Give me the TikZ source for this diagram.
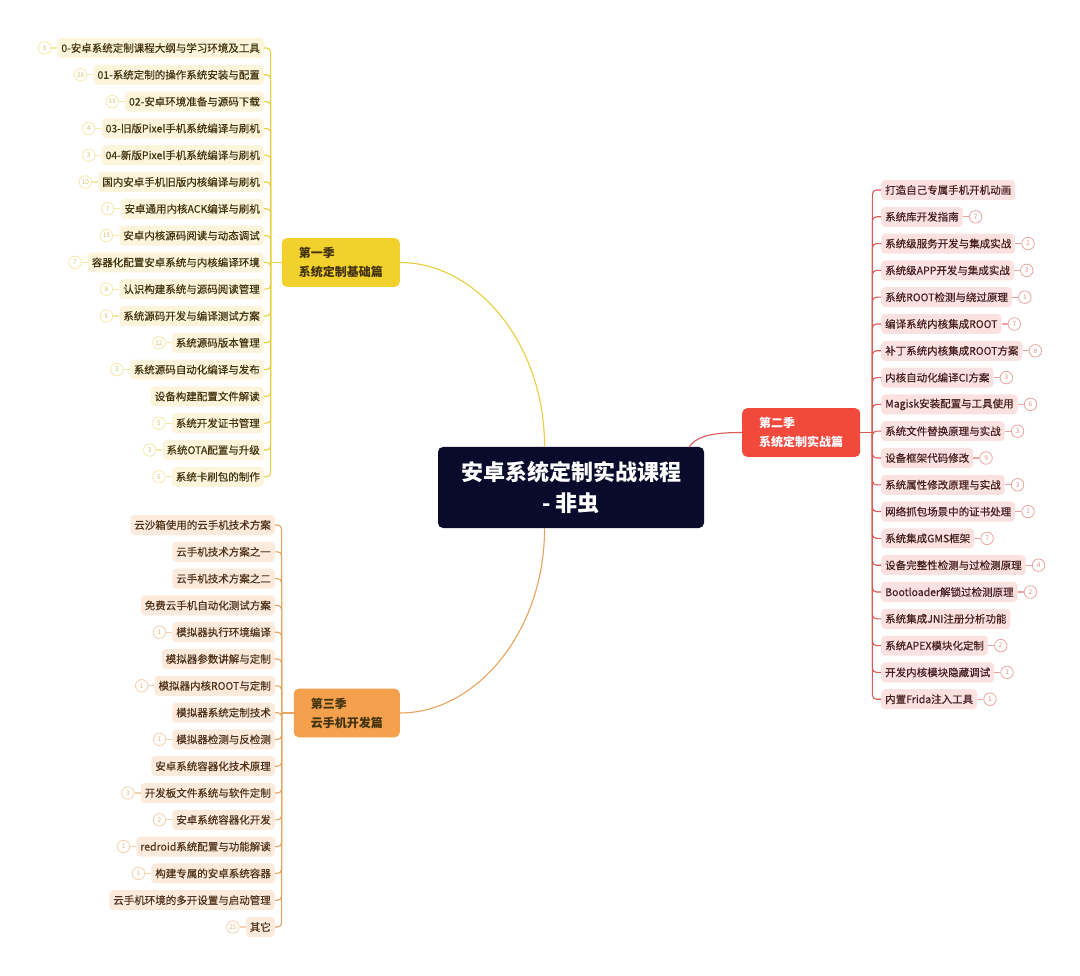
\documentclass[tikz,border=0pt]{standalone}
\usepackage{fontspec}
\setmainfont{Noto Sans CJK SC}
\newfontfamily\itemfont{Noto Sans CJK SC}[FakeBold=0.4]
\usetikzlibrary{positioning}
\definecolor{hubbg}{HTML}{0A0A2C}
\definecolor{seasonA}{HTML}{F3D12C}
\definecolor{seasonB}{HTML}{F2493D}
\definecolor{seasonC}{HTML}{F5A04C}
\definecolor{lineA}{HTML}{E9CF3E}
\definecolor{lineB}{HTML}{DA5A55}
\definecolor{lineC}{HTML}{E9A460}
\definecolor{itemAbg}{HTML}{FDF5DB}
\definecolor{itemBbg}{HTML}{FBE2E0}
\definecolor{itemCbg}{HTML}{FCEBDC}
\definecolor{itemAtx}{HTML}{42330F}
\definecolor{itemBtx}{HTML}{461F1F}
\definecolor{itemCtx}{HTML}{50321C}
\tikzstyle{hub} = [rectangle, rounded corners=5pt, fill=hubbg, text=white, align=center, minimum width=266pt, minimum height=81pt, font=\fontsize{22}{31}\selectfont\bfseries]
\tikzstyle{season} = [rectangle, rounded corners=5pt, align=left, inner xsep=17pt, inner ysep=9pt, font=\fontsize{12}{19}\selectfont\bfseries]
\tikzstyle{item} = [rectangle, rounded corners=4pt, inner xsep=4pt, inner ysep=0pt, minimum height=20pt, font=\fontsize{10.5}{12}\itemfont]
\tikzstyle{badge} = [circle, draw, line width=0.8pt, inner sep=0pt, minimum size=12.5pt, font=\fontsize{6.5}{6.5}\selectfont]
\tikzstyle{link} = [line width=1.1pt]

\begin{document}
\begin{tikzpicture}[x=1pt, y=-1pt]
\fill[white] (0,0) rectangle (1080,976);
\useasboundingbox (0,0) rectangle (1080,976);

\node (hub) [hub] at (571,487.5) {安卓系统定制实战课程\\- 非虫};
\node (sA) [season, fill=seasonA, text=itemAtx, anchor=east] at (400,262.5) {第一季\\系统定制基础篇};
\node (sB) [season, fill=seasonB, text=white, anchor=west] at (742,432.5) {第二季\\系统定制实战篇};
\node (sC) [season, fill=seasonC, text=itemAtx, anchor=east] at (400,713) {第三季\\云手机开发篇};

\coordinate [left=11pt of sA] (jA);
\coordinate [right=12pt of sB] (jB);
\coordinate [left=12pt of sC] (jC);

\draw [link, lineA] (sA.east) .. controls +(75,0) and +(0,-105) .. (hub.123);
\draw [link, lineB] (hub.19) .. controls +(8,-12) and +(-25,0) .. (sB.west);
\draw [link, lineC] (hub.237) .. controls +(0,105) and +(75,0) .. (sC.east);
\draw [link, lineA] (sA.west) -- (jA);
\draw [link, lineB] (sB.east) -- (jB);
\draw [link, lineC] (sC.west) -- (jC);

% season one
\foreach \txt/\num [count=\i] in {0-安卓系统定制课程大纲与学习环境及工具/3, 01-系统定制的操作系统安装与配置/28, 02-安卓环境准备与源码下载/13, 03-旧版Pixel手机系统编译与刷机/4, 04-新版Pixel手机系统编译与刷机/3, 国内安卓手机旧版内核编译与刷机/10, 安卓通用内核ACK编译与刷机/7, 安卓内核源码阅读与动态调试/15, 容器化配置安卓系统与内核编译环境/7, 认识构建系统与源码阅读管理/8, 系统源码开发与编译测试方案/6, 系统源码版本管理/12, 系统源码自动化编译与发布/3, 设备构建配置文件解读/0, 系统开发证书管理/5, 系统OTA配置与升级/3, 系统卡刷包的制作/5} {
  \pgfmathsetmacro{\yy}{48+(\i-1)*26.8}
  \node (a\i) [item, fill=itemAbg, text=itemAtx, anchor=east] at (264,\yy) {\txt};
  \draw [link, lineA, rounded corners=4pt] (jA) |- (a\i.east);
  \ifnum\num>0
    \node (ba\i) [badge, draw=lineA!45, text=lineA!80!black!70, left=6pt of a\i] {\num};
    \draw [link, lineA!45] (ba\i) -- (a\i);
  \fi
}

% season two
\foreach \txt/\num [count=\i] in {打造自己专属手机开机动画/0, 系统库开发指南/7, 系统级服务开发与集成实战/2, 系统级APP开发与集成实战/3, 系统ROOT检测与绕过原理/1, 编译系统内核集成ROOT/7, 补丁系统内核集成ROOT方案/8, 内核自动化编译CI方案/3, Magisk安装配置与工具使用/6, 系统文件替换原理与实战/3, 设备框架代码修改/9, 系统属性修改原理与实战/3, 网络抓包场景中的证书处理/1, 系统集成GMS框架/7, 设备完整性检测与过检测原理/4, Bootloader解锁过检测原理/2, 系统集成JNI注册分析功能/0, 系统APEX模块化定制/2, 开发内核模块隐藏调试/1, 内置Frida注入工具/1} {
  \pgfmathsetmacro{\yy}{190+(\i-1)*26.8}
  \node (b\i) [item, fill=itemBbg, text=itemBtx, anchor=west] at (881,\yy) {\txt};
  \draw [link, lineB, rounded corners=4pt] (jB) |- (b\i.west);
  \ifnum\num>0
    \node (bb\i) [badge, draw=lineB!55, text=lineB!70, right=6pt of b\i] {\num};
    \draw [link, lineB!55] (b\i) -- (bb\i);
  \fi
}

% season three
\foreach \txt/\num [count=\i] in {云沙箱使用的云手机技术方案/0, 云手机技术方案之一/0, 云手机技术方案之二/0, 免费云手机自动化测试方案/0, 模拟器执行环境编译/1, 模拟器参数讲解与定制/0, 模拟器内核ROOT与定制/1, 模拟器系统定制技术/0, 模拟器检测与反检测/1, 安卓系统容器化技术原理/0, 开发板文件系统与软件定制/3, 安卓系统容器化开发/2, redroid系统配置与功能解读/1, 构建专属的安卓系统容器/1, 云手机环境的多开设置与启动管理/0, 其它/25} {
  \pgfmathsetmacro{\yy}{525+(\i-1)*26.8}
  \node (c\i) [item, fill=itemCbg, text=itemCtx, anchor=east] at (275,\yy) {\txt};
  \draw [link, lineC, rounded corners=4pt] (jC) |- (c\i.east);
  \ifnum\num>0
    \node (bc\i) [badge, draw=lineC!50, text=lineC!85, left=6pt of c\i] {\num};
    \draw [link, lineC!50] (bc\i) -- (c\i);
  \fi
}

\end{tikzpicture}
\end{document}
